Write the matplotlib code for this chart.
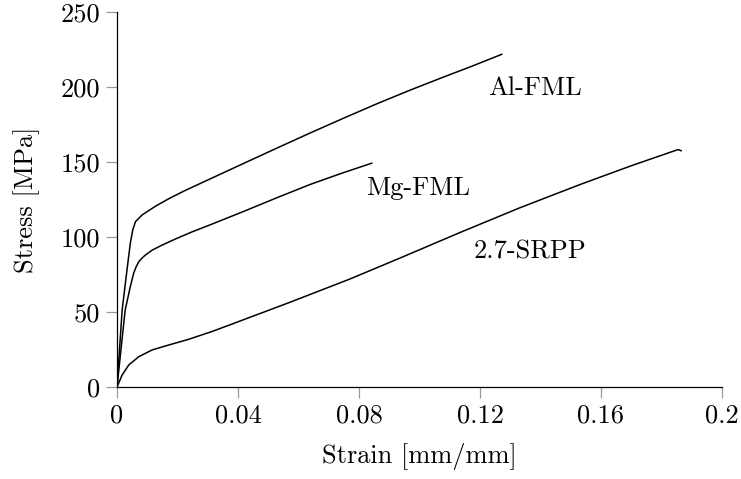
import numpy as np
import matplotlib
matplotlib.use('Agg')
import matplotlib.pyplot as plt

## data

al_strain = [0, 0.0017, 0.0033, 0.0044, 0.0052, 0.0061, 0.0083, 0.0127, 0.0171, 0.0220,
             0.0285, 0.0418, 0.0530, 0.0638, 0.0750, 0.0859, 0.0970, 0.1079, 0.1170, 0.1272]
al_stress = [0, 51.3, 78.0, 95.8, 104.7, 110.2, 114.7, 120.5, 125.5, 130.5,
             136.6, 149.0, 159.4, 169.3, 179.3, 188.8, 198.0, 206.6, 213.6, 221.8]

mg_strain = [0, 0.0027, 0.0044, 0.0055, 0.0063, 0.0072, 0.0083, 0.0094, 0.0116, 0.0149,
             0.0197, 0.0248, 0.0314, 0.0418, 0.0530, 0.0638, 0.0740, 0.0842]
mg_stress = [0, 51.3, 66.9, 75.8, 80.0, 83.5, 86.0, 88.0, 91.2, 94.6,
             99.0, 103.4, 108.6, 117.0, 126.3, 135.0, 142.3, 149.2]

sr_strain = [0, 0.0017, 0.0039, 0.0072, 0.0116, 0.0171, 0.0237, 0.0314, 0.0374, 0.0572,
             0.0770, 0.0936, 0.1134, 0.1332, 0.1531, 0.1700, 0.1855, 0.1865]
sr_stress = [0, 8.0, 14.7, 20.2, 24.7, 28.0, 31.8, 37.0, 41.5, 56.5,
             72.0, 86.0, 103.0, 119.5, 135.0, 147.5, 158.3, 157.5]

labels = ['Al-FML', 'Mg-FML', '2.7-SRPP']
label_pos = [(0.1382, 199.5), (0.0995, 132.5), (0.1365, 90.0)]

xticks = [0, 0.04, 0.08, 0.12, 0.16, 0.2]
xticklabels = ['0', '0.04', '0.08', '0.12', '0.16', '0.2']
yticks = [0, 50, 100, 150, 200, 250]

## style

plt.rcParams['font.family'] = ['cmr10', 'DejaVu Serif']
plt.rcParams['mathtext.fontset'] = 'cm'
plt.rcParams['axes.unicode_minus'] = False
fs = 19

fig = plt.figure(figsize=(7.41, 4.79), dpi=100)
ax = fig.add_axes([117 / 741, 92 / 479, 605 / 741, 375 / 479])

for xs, ys in [(al_strain, al_stress), (mg_strain, mg_stress), (sr_strain, sr_stress)]:
    ax.plot(xs, ys, color='k', lw=1.1, solid_joinstyle='round')

for lab, (x, y) in zip(labels, label_pos):
    ax.text(x, y, lab, fontsize=fs, ha='center', va='center')

ax.set_xlim(0, 0.2)
ax.set_ylim(0, 250)
ax.set_xticks(xticks)
ax.set_xticklabels(xticklabels)
ax.set_yticks(yticks)

ax.spines['top'].set_visible(False)
ax.spines['right'].set_visible(False)
ax.spines['left'].set_linewidth(0.9)
ax.spines['bottom'].set_linewidth(0.9)
ax.tick_params(direction='out', length=8, width=0.9, color='#999999',
               labelsize=fs, pad=4)

ax.set_xlabel('Strain [mm/mm]', fontsize=fs, labelpad=11)
ax.set_ylabel('Stress [MPa]', fontsize=fs, labelpad=15)

fig.savefig('out.png', dpi=100)
